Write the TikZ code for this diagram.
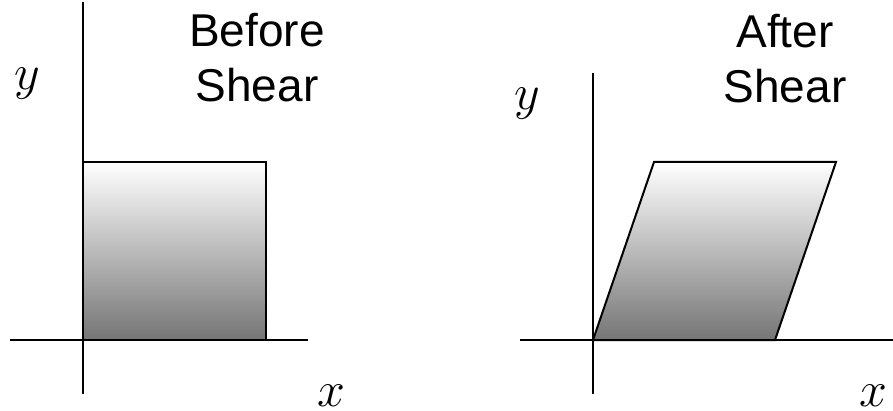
\RequirePackage{fix-cm}
\documentclass[tikz,border=0pt]{standalone}
\usepackage{fontspec}
\setmainfont{Liberation Sans}
\begin{document}
\begin{tikzpicture}[x=1pt,y=-1pt,
  axis/.style={line width=1.4pt,black},
  fillshape/.style={line width=2pt,black,top color=white,bottom color=black!54},
  title/.style={font=\fontsize{46}{55}\selectfont,align=center,anchor=base,inner sep=0pt},
  lbl/.style={font=\fontsize{50}{60}\selectfont,anchor=base,inner sep=0pt}]
\useasboundingbox (0,0) rectangle (893,411);
% left panel
\coordinate (la1) at (10,340);
\coordinate (la2) at (308,340);
\coordinate (lv1) at (83,2);
\coordinate (lv2) at (83,394);
\coordinate (r1) at (83,340);
\coordinate (r2) at (266,340);
\coordinate (r3) at (266,162);
\coordinate (r4) at (83,162);
\draw[fillshape] (r1) -- (r2) -- (r3) -- (r4) -- cycle;
\draw[axis] (la1) -- (la2);
\draw[axis] (lv1) -- (lv2);
\node[title] (tb) at (257,102) {Before\\Shear};
\node[lbl] (ly) at (27,90) {$y$};
\node[lbl] (lx) at (331,406) {$x$};
% right panel
\coordinate (ra1) at (520,340);
\coordinate (ra2) at (893,340);
\coordinate (rv1) at (593,73);
\coordinate (rv2) at (593,394);
\coordinate (p1) at (593,340);
\coordinate (p2) at (775,340);
\coordinate (p3) at (836,162);
\coordinate (p4) at (654,162);
\draw[fillshape,line join=miter] (p1) -- (p2) -- (p3) -- (p4) -- cycle;
\draw[axis] (ra1) -- (ra2);
\draw[axis] (rv1) -- (rv2);
\node[title] (ta) at (785,103) {After\\Shear};
\node[lbl] (ry) at (527,110) {$y$};
\node[lbl] (rx) at (873,406) {$x$};
\end{tikzpicture}
\end{document}
